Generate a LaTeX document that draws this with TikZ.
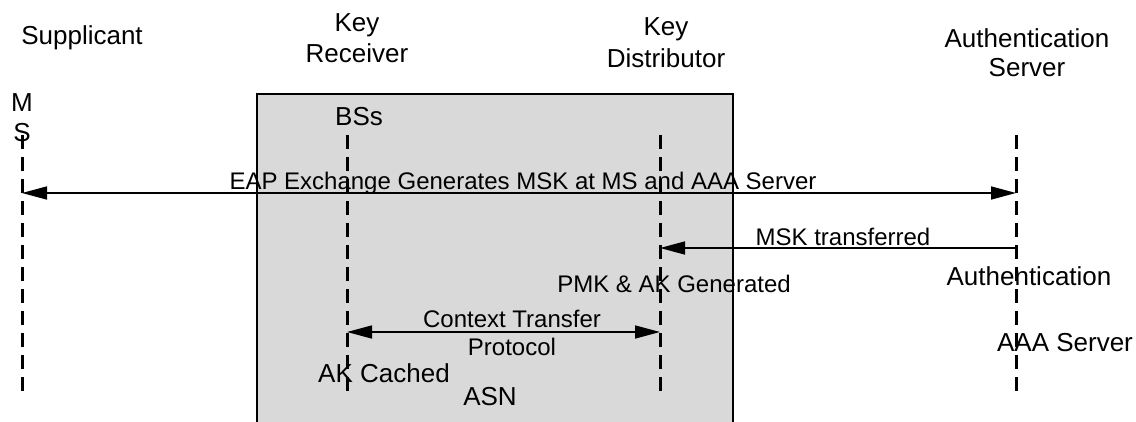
\documentclass[tikz,border=0pt]{standalone}
\usepackage{fontspec}
\setmainfont{Liberation Sans}
\usetikzlibrary{arrows.meta}
\definecolor{asnfill}{HTML}{D9D9D9}
\tikzset{
  lifeline/.style={line width=3pt, dash pattern=on 14pt off 8pt},
  msg/.style={line width=1.6pt},
  tipr/.style={-{Triangle[length=25pt,width=13pt]}},
  tipb/.style={{Triangle[length=25pt,width=13pt]}-{Triangle[length=25pt,width=13pt]}},
  biglabel/.style={inner sep=0pt, anchor=north, align=center, font=\fontsize{26}{30}\selectfont},
  msglabel/.style={inner sep=0pt, anchor=north, align=center, font=\fontsize{24}{28}\selectfont},
  asnbox/.style={draw=black, line width=2pt, fill=asnfill}
}
\begin{document}
\begin{tikzpicture}[x=1pt,y=-1pt]
\clip (0,0) rectangle (1136,421);
% ASN box
\path[fill=asnfill] (257,94) rectangle (733,430);
\draw[line width=2pt] (257,430) -- (257,94) -- (733,94) -- (733,430);
% lifelines
\coordinate (msT) at (22,135);   \coordinate (msB) at (22,395);
\coordinate (bsT) at (347,135);  \coordinate (bsB) at (347,395);
\coordinate (kdT) at (660,135);  \coordinate (kdB) at (660,395);
\coordinate (asT) at (1016,135); \coordinate (asB) at (1016,395);
\draw[lifeline] (msT) -- (msB);
\draw[lifeline] (bsT) -- (bsB);
\draw[lifeline] (kdT) -- (kdB);
\draw[lifeline] (asT) -- (asB);
% message points
\coordinate (msEap) at (22,193);  \coordinate (asEap) at (1016,193);
\coordinate (asMsk) at (1016,248); \coordinate (kdMsk) at (660,248);
\coordinate (bsCtx) at (347,332);  \coordinate (kdCtx) at (660,332);
\draw[msg,tipb] (msEap) -- (asEap);
\draw[msg,tipr] (asMsk) -- (kdMsk);
\draw[msg,tipb] (bsCtx) -- (kdCtx);
% labels
\node[biglabel] (supp) at (82,25) {Supplicant};
\node[biglabel, font=\fontsize{26}{31}\selectfont] (krec) at (357,13) {Key\\Receiver};
\node[biglabel, font=\fontsize{26}{32}\selectfont] (kdist) at (666,17) {Key\\Distributor};
\node[biglabel, font=\fontsize{26}{29}\selectfont] (authsrv) at (1027,28) {Authentication\\Server};
\node[biglabel] (ms) at (22,93) {M\\S};
\node[biglabel] (bss) at (359,107) {BSs};
\node[msglabel] (eap) at (523,172) {EAP Exchange Generates MSK at MS and AAA Server};
\node[msglabel] (msk) at (843,227.5) {MSK transferred};
\node[biglabel] (auth) at (1029,266) {Authentication};
\node[msglabel] (pmk) at (674,275) {PMK \& AK Generated};
\node[msglabel] (ctx) at (512,310) {Context Transfer\\Protocol};
\node[biglabel] (akc) at (384,363) {AK Cached};
\node[biglabel] (asn) at (490,387) {ASN};
\node[biglabel] (aaa) at (1065,333) {AAA Server};
\end{tikzpicture}
\end{document}
